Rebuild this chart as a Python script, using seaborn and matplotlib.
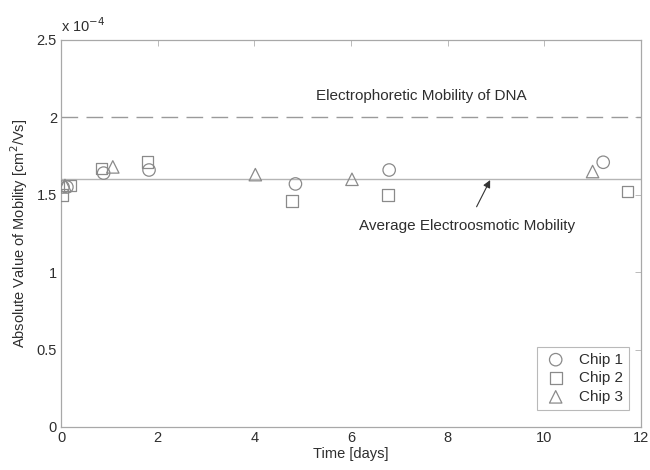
import matplotlib
matplotlib.use("Agg")
import matplotlib.pyplot as plt
import seaborn as sns
import pandas as pd

# Data (mobility in units of 1e-4 cm^2/Vs)
chip1_days = [0.04, 0.12, 0.88, 1.82, 4.85, 6.79, 11.22]
chip1_mob = [1.55, 1.55, 1.64, 1.66, 1.57, 1.66, 1.71]
chip2_days = [0.02, 0.19, 0.84, 1.79, 4.78, 6.76, 11.72]
chip2_mob = [1.50, 1.56, 1.67, 1.71, 1.46, 1.50, 1.52]
chip3_days = [0.08, 1.07, 4.02, 6.02, 11.0]
chip3_mob = [1.56, 1.68, 1.63, 1.60, 1.65]
series_names = ["Chip 1", "Chip 2", "Chip 3"]
dna_mobility = 2.0
avg_eo_mobility = 1.6
x_ticks = [0, 2, 4, 6, 8, 10, 12]
y_ticks = [0, 0.5, 1, 1.5, 2, 2.5]

df = pd.DataFrame({
    "Time": chip1_days + chip2_days + chip3_days,
    "Mobility": chip1_mob + chip2_mob + chip3_mob,
    "Chip": ([series_names[0]] * len(chip1_days) + [series_names[1]] * len(chip2_days)
             + [series_names[2]] * len(chip3_days)),
})

sns.set_theme(style="white")
plt.rcParams["font.family"] = ["Liberation Sans", "DejaVu Sans"]

fig = plt.figure(figsize=(6.5, 4.7), dpi=100)
ax = fig.add_axes([0.094, 0.0915, 0.892, 0.8235])

gray = "#8a8a8a"
txt = "#2e2e2e"
markers = {"Chip 1": "o", "Chip 2": "s", "Chip 3": "^"}
sizes = {"Chip 1": 80, "Chip 2": 70, "Chip 3": 80}
for name in series_names:
    sub = df[df["Chip"] == name]
    sns.scatterplot(data=sub, x="Time", y="Mobility", ax=ax, marker=markers[name],
                    s=sizes[name], facecolors="none", edgecolor=gray, linewidth=0.9,
                    label=name, zorder=3)

ax.axhline(dna_mobility, color="#9a9a9a", lw=1.0, dashes=(12, 6), zorder=1)
ax.axhline(avg_eo_mobility, color="#b5b5b5", lw=1.0, zorder=1)

ax.text(7.45, 2.09, "Electrophoretic Mobility of DNA", ha="center", va="bottom",
        fontsize=11, color=txt)
ax.annotate("Average Electroosmotic Mobility", xy=(8.88, 1.595), xytext=(8.4, 1.30),
            ha="center", va="center", fontsize=11, color=txt,
            arrowprops=dict(arrowstyle="-|>", color="#333333", lw=0.8,
                            mutation_scale=11, shrinkA=7, shrinkB=0))

ax.set_xlim(0, 12)
ax.set_ylim(0, 2.5)
ax.set_xticks(x_ticks)
ax.set_yticks(y_ticks)
ax.set_xticklabels([f"{v:g}" for v in x_ticks])
ax.set_yticklabels([f"{v:g}" for v in y_ticks])
ax.tick_params(direction="in", length=4, width=0.6, color="#b0b0b0", labelsize=10.5,
               labelcolor=txt, top=True, right=True, pad=3)
for sp in ax.spines.values():
    sp.set_color("#a8a8a8")
    sp.set_linewidth(0.9)

ax.set_xlabel("Time [days]", fontsize=10.5, color=txt, labelpad=1)
ax.set_ylabel("Absolute Value of Mobility [cm$^2$/Vs]", fontsize=10.5, color=txt, labelpad=5)
ax.text(0.0, 1.012, "x 10$^{-4}$", transform=ax.transAxes, fontsize=10.5, color=txt,
        ha="left", va="bottom")

leg = ax.legend(loc="lower right", bbox_to_anchor=(0.979, 0.044), fontsize=11,
                frameon=True, fancybox=False, edgecolor="#a8a8a8", borderaxespad=0.0,
                handletextpad=0.7, labelspacing=0.3, borderpad=0.4, handlelength=1.6)
leg.get_frame().set_linewidth(0.8)
for t in leg.get_texts():
    t.set_color(txt)

fig.savefig("out.png", dpi=100)
